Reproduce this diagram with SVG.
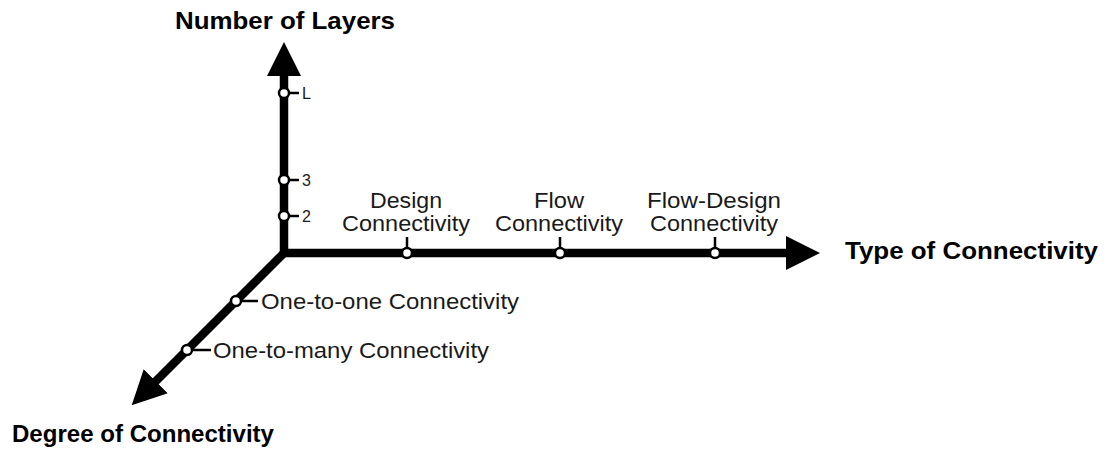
<svg xmlns="http://www.w3.org/2000/svg" width="1107" height="449" viewBox="0 0 1107 449">
<style>
.axis{fill:none;stroke:#000;stroke-width:8.5;stroke-linejoin:miter}
.tick{fill:none;stroke:#000;stroke-width:2.5}
.node{fill:#fff;stroke:#000;stroke-width:2.5}
.title{font-family:"Liberation Sans",Arial,sans-serif;font-weight:bold;font-size:24px;fill:#000}
.lbl{font-family:"Liberation Sans",Arial,sans-serif;font-size:22px;fill:#1a1a1a}
.num{font-family:"Liberation Sans",Arial,sans-serif;font-size:16px;fill:#1a1a1a}
</style>
<defs>
<marker id="arrow" viewBox="0 0 34 34" markerUnits="userSpaceOnUse" markerWidth="34" markerHeight="34" refX="6" refY="17" orient="auto-start-reverse">
<path d="M0,0 L34,17 L0,34 Z" fill="#000"/>
</marker>
</defs>
<g id="connectors">
<path class="axis" d="M284,70 V253 H792" marker-start="url(#arrow)" marker-end="url(#arrow)"/>
<path class="axis" d="M287,250 L151.5,385.5" marker-end="url(#arrow)"/>
</g>
<g id="axis-layers">
<text class="title" x="285" y="29" text-anchor="middle" textLength="220" lengthAdjust="spacingAndGlyphs">Number of Layers</text>
</g>
<g id="axis-type">
<text class="title" x="845" y="259" textLength="253" lengthAdjust="spacingAndGlyphs">Type of Connectivity</text>
</g>
<g id="axis-degree">
<text class="title" x="12" y="442" textLength="262" lengthAdjust="spacingAndGlyphs">Degree of Connectivity</text>
</g>
<g id="layer-L">
<line class="tick" x1="289" y1="93" x2="299" y2="93"/>
<circle class="node" cx="284" cy="93" r="5"/>
<text class="num" x="302" y="99">L</text>
</g>
<g id="layer-3">
<line class="tick" x1="289" y1="180" x2="299" y2="180"/>
<circle class="node" cx="284" cy="180" r="5"/>
<text class="num" x="302" y="186">3</text>
</g>
<g id="layer-2">
<line class="tick" x1="289" y1="216" x2="299" y2="216"/>
<circle class="node" cx="284" cy="216" r="5"/>
<text class="num" x="302" y="222">2</text>
</g>
<g id="design-connectivity">
<line class="tick" x1="407" y1="237" x2="407" y2="248"/>
<circle class="node" cx="407" cy="253" r="5"/>
<text class="lbl" x="406" y="208" text-anchor="middle" textLength="72" lengthAdjust="spacingAndGlyphs">Design</text>
<text class="lbl" x="406" y="231" text-anchor="middle" textLength="128" lengthAdjust="spacingAndGlyphs">Connectivity</text>
</g>
<g id="flow-connectivity">
<line class="tick" x1="560" y1="237" x2="560" y2="248"/>
<circle class="node" cx="560" cy="253" r="5"/>
<text class="lbl" x="559" y="208" text-anchor="middle" textLength="50" lengthAdjust="spacingAndGlyphs">Flow</text>
<text class="lbl" x="559" y="231" text-anchor="middle" textLength="128" lengthAdjust="spacingAndGlyphs">Connectivity</text>
</g>
<g id="flow-design-connectivity">
<line class="tick" x1="715" y1="237" x2="715" y2="248"/>
<circle class="node" cx="715" cy="253" r="5"/>
<text class="lbl" x="714" y="208" text-anchor="middle" textLength="134" lengthAdjust="spacingAndGlyphs">Flow-Design</text>
<text class="lbl" x="714" y="231" text-anchor="middle" textLength="128" lengthAdjust="spacingAndGlyphs">Connectivity</text>
</g>
<g id="one-to-one">
<line class="tick" x1="241" y1="301" x2="258" y2="301"/>
<circle class="node" cx="236" cy="301" r="5"/>
<text class="lbl" x="261" y="309" textLength="258" lengthAdjust="spacingAndGlyphs">One-to-one Connectivity</text>
</g>
<g id="one-to-many">
<line class="tick" x1="192" y1="350" x2="211" y2="350"/>
<circle class="node" cx="187" cy="350" r="5"/>
<text class="lbl" x="213" y="358" textLength="276" lengthAdjust="spacingAndGlyphs">One-to-many Connectivity</text>
</g>
</svg>
